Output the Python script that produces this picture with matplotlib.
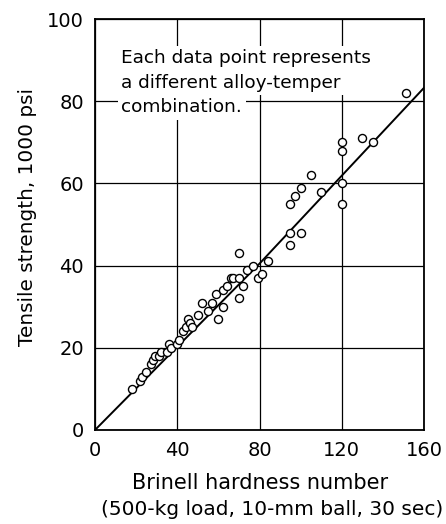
import numpy as np
import matplotlib.pyplot as plt

# Brinell hardness vs tensile strength, one point per alloy-temper
brinell = [18, 22, 23, 25, 27, 28, 29, 31, 32, 35, 36, 37, 40, 41, 43, 44,
           45, 46, 47, 50, 52, 55, 57, 59, 60, 62, 62, 64, 66, 67, 70, 70,
           70, 72, 74, 77, 79, 81, 84, 95, 95, 95, 97, 100, 100, 105, 110,
           120, 120, 120, 120, 130, 135, 151]
tensile = [10, 12, 13, 14, 16, 17, 18, 18, 19, 19, 21, 20, 21, 22, 24, 25,
           27, 26, 25, 28, 31, 29, 31, 33, 27, 30, 34, 35, 37, 37, 37, 32,
           43, 35, 39, 40, 37, 38, 41, 45, 48, 55, 57, 48, 59, 62, 58,
           55, 60, 68, 70, 71, 70, 82]

# fitted relation (slight change of slope near 80 BHN)
fit_bhn = [0, 80, 160]
fit_ts = [0, 40.5, 83.3]

plt.rcParams['font.family'] = 'DejaVu Sans'

fig = plt.figure(figsize=(4.46, 5.24), dpi=100)
ax = fig.add_axes([0.213, 0.1794, 0.738, 0.7843])

ax.plot(fit_bhn, fit_ts, color='black', lw=1.4, zorder=3)
ax.plot(brinell, tensile, 'o', mfc='white', mec='black', ms=5.8, mew=1.0,
        zorder=4, clip_on=False)

ax.set_xlim(0, 160)
ax.set_ylim(0, 100)
ax.set_xticks([0, 40, 80, 120, 160])
ax.set_yticks([0, 20, 40, 60, 80, 100])
ax.grid(True, color='black', lw=0.9)
ax.set_axisbelow(True)
ax.tick_params(length=0, labelsize=14, pad=8)
for s in ax.spines.values():
    s.set_linewidth(1.3)

ax.set_xlabel('Brinell hardness number', fontsize=15, labelpad=9)
fig.text(0.61, 0.027, '(500-kg load, 10-mm ball, 30 sec)', fontsize=14.5,
         ha='center', va='center')
ax.set_ylabel('Tensile strength, 1000 psi', fontsize=14.4)
ax.yaxis.set_label_coords(-0.175, 0.518)

note = ['Each data point represents', 'a different alloy-temper',
        'combination.']
for i, line in enumerate(note):
    ax.text(0.08, 0.905 - i * 0.06, line, transform=ax.transAxes,
            fontsize=13.3, va='center', ha='left', zorder=5,
            bbox=dict(facecolor='white', edgecolor='none', pad=2.5))

fig.savefig('out.png', dpi=100)
